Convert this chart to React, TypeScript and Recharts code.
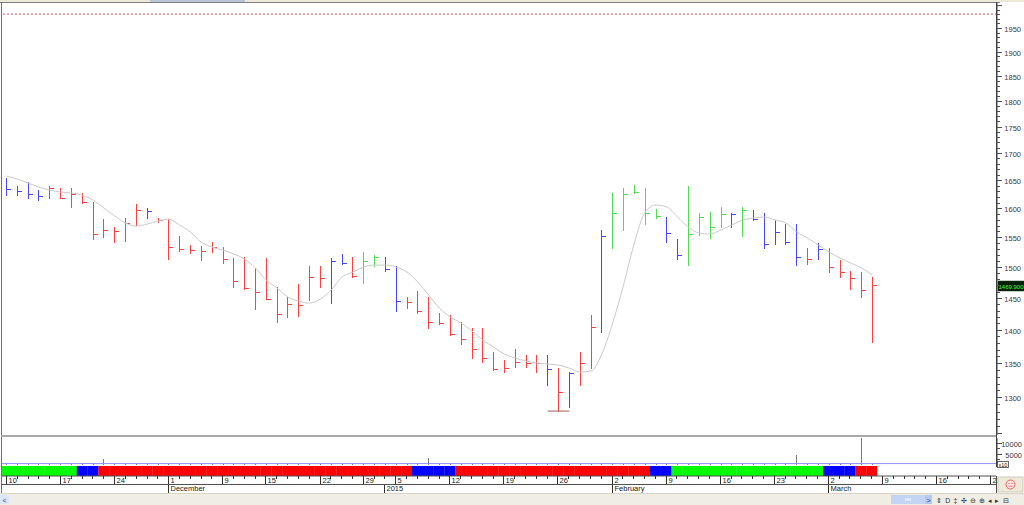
import React from 'react';
import { ComposedChart, BarChart, Bar, Line, XAxis, YAxis, ReferenceLine, Cell } from 'recharts';

// ---- categories (trading days) ----
const days = [
  '2014-11-10','2014-11-11','2014-11-12','2014-11-13','2014-11-14',
  '2014-11-17','2014-11-18','2014-11-19','2014-11-20','2014-11-21',
  '2014-11-24','2014-11-25','2014-11-26','2014-11-27','2014-11-28',
  '2014-12-01','2014-12-02','2014-12-03','2014-12-04','2014-12-05',
  '2014-12-09','2014-12-10','2014-12-11','2014-12-12',
  '2014-12-15','2014-12-16','2014-12-17','2014-12-18','2014-12-19',
  '2014-12-22','2014-12-23','2014-12-24','2014-12-26',
  '2014-12-29','2014-12-30','2015-01-02',
  '2015-01-05','2015-01-06','2015-01-07','2015-01-08','2015-01-09',
  '2015-01-12','2015-01-13','2015-01-14','2015-01-15','2015-01-16',
  '2015-01-19','2015-01-20','2015-01-21','2015-01-22','2015-01-23',
  '2015-01-26','2015-01-27','2015-01-28','2015-01-29','2015-01-30',
  '2015-02-02','2015-02-03','2015-02-04','2015-02-05','2015-02-06',
  '2015-02-09','2015-02-10','2015-02-11','2015-02-12','2015-02-13',
  '2015-02-16','2015-02-17','2015-02-18','2015-02-19','2015-02-20',
  '2015-02-23','2015-02-24','2015-02-25','2015-02-26','2015-02-27',
  '2015-03-02','2015-03-03','2015-03-04','2015-03-05','2015-03-06',
  '2015-03-09','2015-03-10','2015-03-11','2015-03-12','2015-03-13',
  '2015-03-16','2015-03-17','2015-03-18','2015-03-19','2015-03-20',
  '2015-03-23',
];

// ---- price series ----
const highs = [
  1654, 1639.5, 1646.7, 1632.3, 1639.5, 1636, 1636, 1627, 1611, 1581,
  1567, 1583, 1607.5, 1600.4, 1583, 1581, 1552, 1536.7, 1535, 1541.7,
  1533.3, 1515, 1516.6, 1498.4, 1515, 1467.5, 1451.4, 1472.3, 1501.7, 1501.7,
  1515, 1521.6, 1516.6, 1525, 1520, 1516.6, 1501.7, 1451.4, 1461, 1451.4,
  1426.1, 1423, 1412.1, 1402.9, 1402.9, 1366.4, 1354.4, 1370.9, 1361.9, 1361.9,
  1361.9, 1342.6, 1336.8, 1366.4, 1423, 1562.2, 1627.6, 1636.5, 1641.3, 1636.5,
  1598.6, 1584.6, 1546.8, 1639.5, 1591.6, 1593.4, 1602.2, 1591.6, 1602.2, 1596.9,
  1591.6, 1579.4, 1572.5, 1572.5, 1531.7, 1540, 1531.7, 1511.6, 1493.5, 1491.8,
  1483.6,
];
const lows = [
  1623.4, 1623.4, 1618, 1614.5, 1618, 1618, 1602, 1609, 1547, 1550,
  1542, 1543.4, 1570.8, 1583, 1576, 1513.3, 1526.6, 1523.3, 1511.6, 1525,
  1506.6, 1467.5, 1464.2, 1432.5, 1448.2, 1412.1, 1419.9, 1421.5, 1446.6, 1467.5,
  1441.8, 1505, 1483.6, 1474, 1501.7, 1493.5, 1429.3, 1434, 1426.1, 1402.9,
  1409, 1392.1, 1378.4, 1357.4, 1351.4, 1339.7, 1336.8, 1344.1, 1344.1, 1336.8,
  1317.8, 1280.7, 1286.4, 1317.8, 1342.6, 1396.7, 1531.7, 1562.2, 1627.6, 1572.5,
  1583, 1541.7, 1513.3, 1503.3, 1553.6, 1548.5, 1567.3, 1567.3, 1552, 1579.4,
  1531.7, 1538.4, 1538.4, 1503.3, 1505, 1513.3, 1491.8, 1483.6, 1464.2, 1451.4,
  1381.5,
];
const closes = [
  1634, 1630.5, 1625, 1621.6, 1636, 1618, 1625, 1611, 1555, 1562,
  1560.5, 1574.2, 1597, 1595, 1579.4, 1533.3, 1530, 1528.3, 1526.6, 1533.3,
  1513.3, 1477.2, 1465.8, 1459.4, 1448.2, 1424.6, 1440.3, 1438.7, 1483.6, 1482,
  1510, 1506.6, 1485.3, 1510, 1516.6, 1496.7, 1445, 1443.4, 1429.3, 1412.1,
  1410.6, 1393.6, 1386, 1370.9, 1357.4, 1341.2, 1342.6, 1351.4, 1350, 1350,
  1341.2, 1307.7, 1335.2, 1350, 1404.4, 1552, 1591.6, 1625.2, 1628.8, 1591.6,
  1586.4, 1557, 1520, 1555.3, 1584.6, 1567.3, 1589.9, 1589.9, 1596.9, 1581.1,
  1538.4, 1558.8, 1541.7, 1516.6, 1513.3, 1530, 1500, 1491.8, 1482, 1462.6,
  1469.9,
];
const barColors = [
  'b','b','b','b','r','r','r','r','r','r',
  'r','r','r','b','r','r','r','r','r','r',
  'r','r','r','r','r','r','r','r','r','r',
  'b','b','r','g','g','b','b','r','r','r',
  'r','r','r','r','r','r','r','r','r','r',
  'b','r','b','r','r','b','g','g','g','g',
  'g','b','b','g','g','g','g','b','g','b',
  'b','b','b','b','r','b','r','r','r','r',
  'r',
];
const movingAvg = [
  1657.5, 1652, 1645, 1637.7, 1632.3, 1628.7, 1627, 1623.4, 1614.5, 1600.4,
  1586.4, 1574.2, 1569, 1572.5, 1577.7, 1581, 1570.8, 1558.8, 1541.7, 1533.3,
  1528.3, 1521.6, 1513.3, 1498.4, 1478.8, 1465.8, 1451.4, 1445, 1441.8, 1448.2,
  1462.6, 1483.6, 1491.8, 1500, 1503.3, 1503.3, 1500, 1491.8, 1475.5, 1454.6,
  1434, 1419.9, 1410.6, 1398.3, 1384.5, 1373.9, 1363.4, 1357.4, 1353, 1350,
  1348.5, 1347, 1342.6, 1336.8, 1338.2, 1363.4, 1410.6, 1470.7, 1540, 1593.4,
  1605.7, 1602.2, 1584.6, 1567.3, 1557, 1555.3, 1562.2, 1570.8, 1579.4, 1583,
  1584.6, 1579.4, 1574.2, 1558.8, 1548.5, 1536.7, 1525, 1515, 1506.6, 1498.4,
  1486.9,
];
const volumes = [
  600, 500, 550, 500, 600, 550, 700, 800, 900, 2700,
  600, 500, 550, 600, 500, 550, 600, 500, 650, 550,
  500, 600, 550, 500, 600, 650, 550, 500, 600, 550,
  500, 550, 600, 500, 550, 600, 500, 550, 650, 3100,
  550, 600, 500, 550, 600, 550, 500, 600, 550, 500,
  600, 700, 650, 550, 600, 800, 700, 650, 600, 550,
  600, 550, 500, 600, 550, 600, 500, 550, 600, 650,
  550, 600, 700, 4500, 600, 550, 650, 700, 600, 12500,
  1000,
];
// indicator strip segments (inclusive index ranges)
const stripSegments = [
  { from: 0, to: 6, c: 'g' },
  { from: 7, to: 8, c: 'b' },
  { from: 9, to: 37, c: 'r' },
  { from: 38, to: 41, c: 'b' },
  { from: 42, to: 59, c: 'r' },
  { from: 60, to: 61, c: 'b' },
  { from: 62, to: 75, c: 'g' },
  { from: 76, to: 78, c: 'b' },
  { from: 79, to: 80, c: 'r' },
];
const priceLabels = [1300, 1350, 1400, 1450, 1500, 1550, 1600, 1650, 1700, 1750, 1800, 1850, 1900, 1950];
const volumeLabels = [5000, 10000];
const alertLevel = 1980;
const supportLevel = 1280.7;
const supportFrom = 50;
const supportTo = 52;
const monthNames = ['January','February','March','April','May','June','July','August','September','October','November','December'];

// ---- styling ----
const FONT = "'Liberation Sans', Arial, sans-serif";
const BAR_COL: Record<string, string> = { b: '#4646ff', r: '#ff4040', g: '#4fdc4f' };
const STRIP_COL: Record<string, string> = { b: '#0000ff', r: '#ff0000', g: '#00ff00' };
const PRICE_DOMAIN: [number, number] = [1247.5, 2004.3];

const priceData = days.map((d, i) => ({
  day: d,
  range: i < highs.length ? [lows[i], highs[i]] : null,
  ma: movingAvg[i],
}));
const volData = days.map((d, i) => ({ day: d, vol: volumes[i] }));
const stripOf = (i: number) => {
  const s = stripSegments.find((g) => i >= g.from && i <= g.to);
  return s ? STRIP_COL[s.c] : null;
};
const stripData = days.map((d, i) => ({ day: d, s: stripOf(i) ? 1 : null, fill: stripOf(i) }));

const yTicks: number[] = [];
for (let v = 1250; v <= 2000; v += 10) yTicks.push(v);

const parseDay = (s: string) => {
  const [y, m, d] = s.split('-').map(Number);
  return { y, m, d, t: Date.UTC(y, m - 1, d), wd: new Date(Date.UTC(y, m - 1, d)).getUTCDay() };
};
const colorAt = (i: number) => BAR_COL[barColors[i]] || '#888888';

// ---- shapes ----
// High-low bar with close tick; the bar ends come from the log y scale, and the
// close tick is placed on the same log scale between them.
const HLCShape = (p: any) => {
  const { x, y, width, height, index } = p;
  if (height == null || index == null || index >= highs.length) return null;
  const top = Math.round(Math.min(y, y + height));
  const bot = Math.round(Math.max(y, y + height));
  const cx = Math.floor(x + width / 2);
  const lh = Math.log(highs[index]);
  const ll = Math.log(lows[index]);
  const lc = Math.log(closes[index]);
  const cy = lh > ll ? top + ((lh - lc) / (lh - ll)) * (bot - top) : top;
  const yy = Math.min(Math.round(cy), bot);
  const col = colorAt(index);
  return (
    <g>
      <rect x={cx} y={top} width={1} height={bot - top + 1} fill={col} shapeRendering="crispEdges" />
      <rect x={cx + 1} y={yy} width={4} height={1} fill={col} shapeRendering="crispEdges" />
    </g>
  );
};

const VolShape = (p: any) => {
  const { x, y, width, height } = p;
  if (!height || height <= 0) return null;
  const cx = Math.floor(x + width / 2);
  const top = Math.round(y);
  return <rect x={cx} y={top} width={1} height={Math.max(1, Math.round(y + height) - top)} fill="#7c7c7c" shapeRendering="crispEdges" />;
};

const PriceTick = (p: any) => {
  const { x, y, payload } = p;
  const v = payload.value;
  const major = v % 50 === 0;
  const yy = Math.round(y) + 0.5;
  return (
    <g>
      <line x1={x} x2={x + (major ? 5 : 3)} y1={yy} y2={yy} stroke="#505050" />
      {major && priceLabels.includes(v) && (
        <text x={1021} y={yy + 3} textAnchor="end" fontSize={7.5} fontFamily={FONT} fill="#3a3a3a">{v}</text>
      )}
    </g>
  );
};

const VolTick = (p: any) => {
  const { x, y, payload } = p;
  const v = payload.value;
  const yy = Math.round(y) + 0.5;
  const lab = volumeLabels.includes(v);
  return (
    <g>
      <line x1={x} x2={x + (lab ? 5 : 3)} y1={yy} y2={yy} stroke="#505050" />
      {lab && (
        <text x={1022} y={yy + 3} textAnchor="end" fontSize={7.5} fontFamily={FONT} fill="#3a3a3a">{v}</text>
      )}
    </g>
  );
};

const DateTick = (p: any) => {
  const { x, y, payload } = p;
  const i = days.indexOf(payload.value);
  if (i < 0) return null;
  const d = parseDay(days[i]);
  const prev = i > 0 ? parseDay(days[i - 1]) : null;
  const newWeek = !prev || d.wd <= prev.wd || d.t - prev.t >= 7 * 86400000;
  const newMonth = prev && prev.m !== d.m;
  const xx = Math.floor(x) + 0.5;
  const monthText = newMonth ? (prev && prev.y !== d.y ? String(d.y) : monthNames[d.m - 1]) : null;
  return (
    <g>
      <line x1={xx} x2={xx} y1={y} y2={y + (newWeek ? 8 : 3)} stroke="#303030" />
      {newWeek && (
        <text x={xx + 2} y={y + 7} fontSize={7.5} fontFamily={FONT} fill="#202020">{d.d}</text>
      )}
      {monthText && (
        <g>
          <line x1={xx} x2={xx} y1={y + 8} y2={y + 17} stroke="#303030" />
          <text x={xx + 2} y={y + 15} fontSize={7.5} fontFamily={FONT} fill="#202020">{monthText}</text>
        </g>
      )}
    </g>
  );
};

const lastIdx = closes.length - 1;

const LastPriceLabel = (props: any) => {
  const vb = props.viewBox;
  if (!vb) return null;
  const yy = Math.round(vb.y);
  const x0 = vb.x + vb.width + 1;
  return (
    <g>
      <rect x={x0} y={yy - 5} width={26} height={10} fill="#062006" stroke="#1a3a1a" strokeWidth={0.5} />
      <text x={x0 + 13} y={yy + 2.5} textAnchor="middle" fontSize={6} fontFamily={FONT} fill="#4cff4c">
        {closes[lastIdx].toFixed(3)}
      </text>
    </g>
  );
};

export default function App() {
  return (
    <div style={{ position: 'absolute', left: 0, top: 0, width: 1024, height: 505, background: '#ffffff', overflow: 'hidden' }}>
      {/* price panel */}
      <div style={{ position: 'absolute', left: 0, top: 0 }}>
        <ComposedChart width={1024} height={435} data={priceData} margin={{ top: 3, right: 0, left: 1, bottom: 0 }} barCategoryGap={0} barGap={0}>
          <XAxis dataKey="day" hide />
          <YAxis
            orientation="right"
            type="number"
            scale="log"
            domain={PRICE_DOMAIN}
            allowDataOverflow
            ticks={yTicks}
            interval={0}
            width={27}
            tick={PriceTick}
            tickLine={false}
            tickSize={0}
            tickMargin={0}
            axisLine={{ stroke: '#404040' }}
          />
          <ReferenceLine y={alertLevel} stroke="#d4505e" strokeDasharray="2 2" strokeWidth={1} />
          <Line dataKey="ma" type="monotone" stroke="#cacaca" strokeWidth={1} dot={false} activeDot={false} isAnimationActive={false} />
          <Bar dataKey="range" shape={HLCShape} isAnimationActive={false} />
          <ReferenceLine
            segment={[{ x: days[supportFrom], y: supportLevel }, { x: days[supportTo], y: supportLevel }]}
            stroke="#a05a5a"
            strokeWidth={1}
          />
          <ReferenceLine y={closes[lastIdx]} stroke="none" label={LastPriceLabel} />
        </ComposedChart>
      </div>

      {/* volume panel */}
      <div style={{ position: 'absolute', left: 0, top: 438 }}>
        <ComposedChart width={1024} height={27} data={volData} margin={{ top: 0, right: 0, left: 1, bottom: 0 }} barCategoryGap={0}>
          <XAxis dataKey="day" hide />
          <YAxis
            orientation="right"
            type="number"
            domain={[0, 12270]}
            allowDataOverflow
            ticks={[2500, 5000, 7500, 10000]}
            interval={0}
            width={27}
            tick={VolTick}
            tickLine={false}
            tickSize={0}
            tickMargin={0}
            axisLine={{ stroke: '#404040' }}
          />
          <Bar dataKey="vol" shape={VolShape} isAnimationActive={false} />
          <ReferenceLine y={650} stroke="#8f8fff" strokeWidth={1} />
        </ComposedChart>
      </div>

      {/* indicator strip + date axis */}
      <div style={{ position: 'absolute', left: 0, top: 466 }}>
        <BarChart width={1024} height={27} data={stripData} margin={{ top: 0, right: 28, left: 1, bottom: 0 }} barCategoryGap={0} barGap={0}>
          <XAxis
            dataKey="day"
            interval={0}
            height={17}
            tick={DateTick}
            tickLine={false}
            tickSize={0}
            tickMargin={0}
            axisLine={{ stroke: '#505050' }}
          />
          <YAxis hide domain={[0, 1]} />
          <Bar dataKey="s" isAnimationActive={false}>
            {stripData.map((e, i) => (
              <Cell key={i} fill={e.fill || 'none'} />
            ))}
          </Bar>
        </BarChart>
      </div>

      {/* frame / window chrome */}
      <svg width={1024} height={505} style={{ position: 'absolute', left: 0, top: 0, pointerEvents: 'none' }}>
        <rect x={0} y={0} width={1024} height={2} fill="#ece9d8" />
        <rect x={150} y={0} width={95} height={2} fill="#b8c4d8" />
        <line x1={0} x2={1000} y1={2.5} y2={2.5} stroke="#808080" />
        <line x1={1.5} x2={1.5} y1={2} y2={493} stroke="#707070" />
        <rect x={1} y={435} width={996} height={2} fill="#a8a8a8" />
        <line x1={996.5} x2={996.5} y1={2} y2={467} stroke="#404040" />
        <line x1={1} x2={997} y1={484.5} y2={484.5} stroke="#505050" />
        <line x1={996.5} x2={996.5} y1={476} y2={493} stroke="#505050" />
        {/* x10 box */}
        <rect x={997.5} y={461.5} width={11} height={6} fill="#ffffff" stroke="#404040" strokeWidth={0.8} />
        <text x={1003} y={466.5} textAnchor="middle" fontSize={5.5} fontFamily={FONT} fill="#202020">x10</text>
        {/* smiley box */}
        <rect x={998} y={477} width={25} height={15} fill="#ece9d8" stroke="#d0cdbc" />
        <circle cx={1010.5} cy={484.5} r={4.5} fill="#fbe0e0" stroke="#e04848" strokeWidth={0.8} />
        <circle cx={1009} cy={483.5} r={0.6} fill="#e04848" />
        <circle cx={1012} cy={483.5} r={0.6} fill="#e04848" />
        <path d="M1008.5 486.8 Q1010.5 485.2 1012.5 486.8" fill="none" stroke="#e04848" strokeWidth={0.6} />
        {/* bottom scroll bar row */}
        <rect x={0} y={493} width={1024} height={12} fill="#f0eee4" />
        <line x1={0} x2={1024} y1={493.5} y2={493.5} stroke="#d8d5c6" />
        <rect x={0} y={495} width={9} height={9} fill="#dde6f6" />
        <text x={4.5} y={502.5} textAnchor="middle" fontSize={7} fontFamily={FONT} fill="#2040a0">&lt;</text>
        <rect x={891} y={495} width={34} height={9} fill="#c4d4f4" />
        <rect x={905} y={498} width={6} height={3} fill="#dfe8fb" />
        <rect x={925} y={495} width={7} height={9} fill="#b6c8ef" />
        <text x={928.5} y={502.5} textAnchor="middle" fontSize={7} fontFamily={FONT} fill="#2040a0">&gt;</text>
        <text x={936} y={502.5} fontSize={7} fontFamily={FONT} fill="#303030" letterSpacing={3.2}>⇕D‡✣⊖⊕◂▸⊟</text>
      </svg>
    </div>
  );
}
